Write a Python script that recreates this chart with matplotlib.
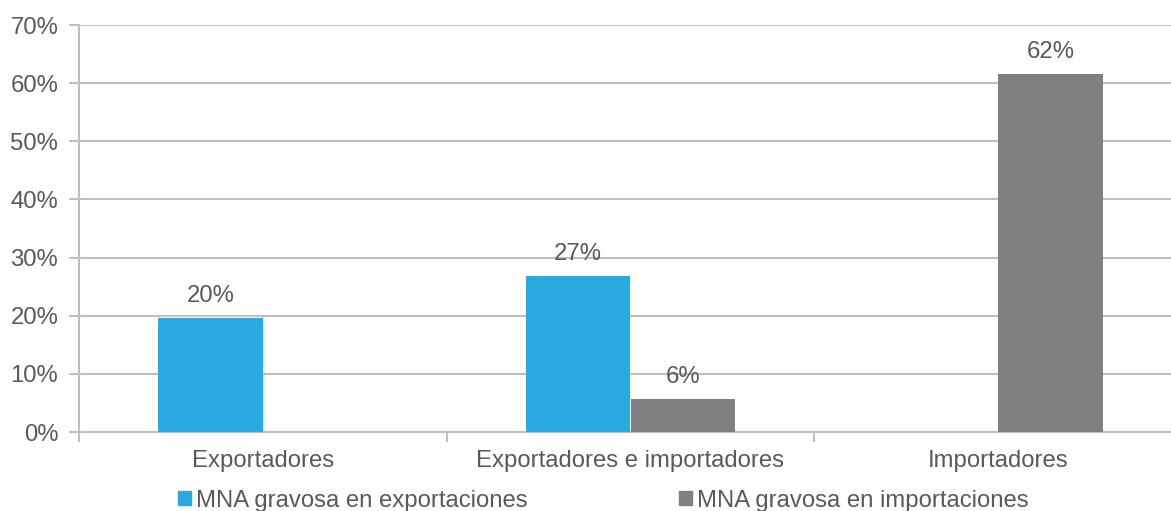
import matplotlib.pyplot as plt
from matplotlib.patches import Patch

categories = ['Exportadores', 'Exportadores e importadores', 'Importadores']
exportaciones = [19.6, 26.8, None]
importaciones = [None, 5.7, 61.6]
series_names = ['MNA gravosa en exportaciones', 'MNA gravosa en importaciones']
yticks = [0, 10, 20, 30, 40, 50, 60, 70]

blue = '#29ABE2'
gray = '#808080'
textColor = '#595959'
gridColor = '#BFBFBF'

plt.rcParams['font.family'] = ['Liberation Sans', 'DejaVu Sans']
plt.rcParams['font.size'] = 17.2

fig = plt.figure(figsize=(11.71, 5.11), dpi=100)
# the axis runs a little past the right edge of the picture, as in the original
ax = fig.add_axes([79 / 1171, 79 / 511, 1103 / 1171, 407 / 511])

w = 0.285
for i, cat in enumerate(categories):
    for vals, color, off in ((exportaciones, blue, -w / 2), (importaciones, gray, w / 2)):
        v = vals[i]
        if v is None:
            continue
        ax.bar(i + off, v, width=w, color=color, linewidth=0, zorder=3)
        ax.text(i + off, v + 1.9, f'{round(v):.0f}%', ha='center', va='bottom',
                color=textColor, zorder=4)

ax.set_xlim(-0.5, 2.5)
ax.set_ylim(0, 70)
ax.set_yticks(yticks)
ax.set_yticklabels([f'{t}%' for t in yticks], color=textColor)
ax.yaxis.grid(True, color=gridColor, linewidth=1.5, zorder=0)

# category labels in the middle, ticks at boundaries
ax.set_xticks([0, 1, 2])
ax.set_xticklabels(categories, color=textColor)
ax.tick_params(axis='x', length=0, pad=13)
ax.set_xticks([-0.5, 0.5, 1.5, 2.5], minor=True)
ax.tick_params(axis='x', which='minor', length=7, color=gridColor, width=1.5)
ax.tick_params(axis='y', length=7, color=gridColor, width=1.5, pad=8)

for s in ['top', 'right']:
    ax.spines[s].set_visible(False)
for s in ['left', 'bottom']:
    ax.spines[s].set_color(gridColor)
    ax.spines[s].set_linewidth(1.5)

handles = [Patch(color=blue), Patch(color=gray)]
fig.legend(handles, series_names, loc='center left', bbox_to_anchor=(178 / 1171, 0.02),
           ncol=2, frameon=False, handlelength=0.54, handleheight=0.54,
           handletextpad=0.2, columnspacing=6.35, labelcolor=textColor,
           borderaxespad=0, borderpad=0)

fig.savefig('out.png', dpi=100)
